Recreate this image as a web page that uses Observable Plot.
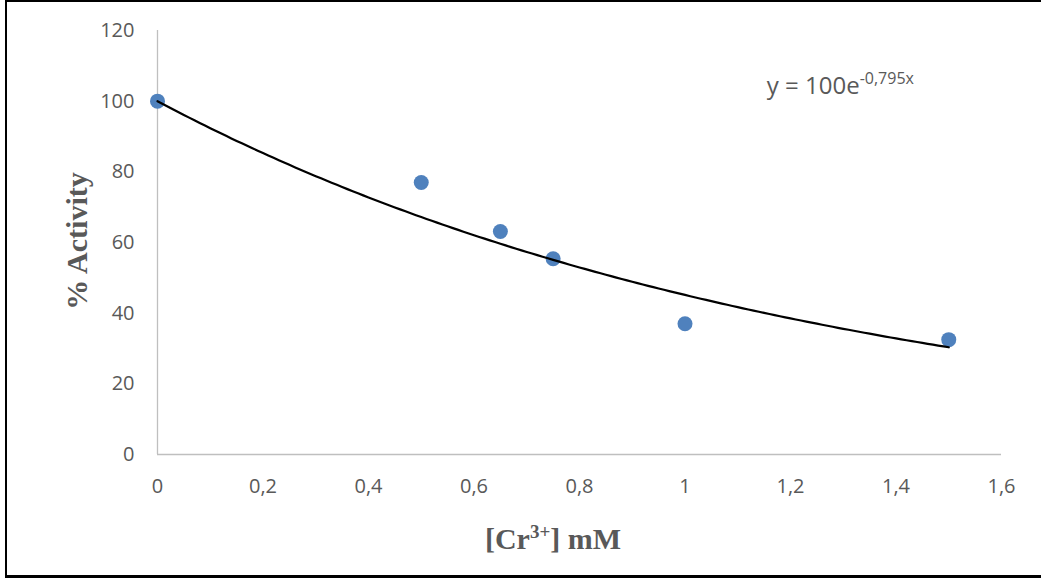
<!DOCTYPE html>
<html>
<head>
<meta charset="utf-8">
<script src="https://cdn.jsdelivr.net/npm/d3@7"></script>
<script src="https://cdn.jsdelivr.net/npm/@observablehq/plot@0.6"></script>
<style>
  html, body { margin: 0; padding: 0; background: #fff; }
  #wrap { position: relative; width: 1041px; height: 581px; overflow: hidden; }
  #frame { position: absolute; left: 5px; top: 0; width: 1036px; height: 578px; box-sizing: border-box;
           border-top: 2px solid #000; border-left: 2px solid #000; border-bottom: 3px solid #000; pointer-events: none; }
</style>
</head>
<body>
<div id="wrap"><div id="frame"></div></div>
<script>
// Data
const concentrations = [0, 0.5, 0.65, 0.75, 1.0, 1.5];   // [Cr3+] mM
const activity       = [100, 77, 63.1, 55.4, 37, 32.5];  // % Activity
const xTicks = [0, 0.2, 0.4, 0.6, 0.8, 1.0, 1.2, 1.4, 1.6];
const yTicks = [0, 20, 40, 60, 80, 100, 120];
// Exponential trend line shown on the chart: y = 100 e^(-0,795 x)
const fitA = 100, fitK = -0.795;
const fitRange = [0, 1.5];
const equationMain = "y = 100e";
const equationExp = "-0,795x";
const equationAt = {x: 1.156, y: 102};
const xTitle = ["[Cr", "3+", "] mM"];
const yTitle = "% Activity";

const points = concentrations.map((c, i) => ({x: c, y: activity[i]}));
const trend = d3.range(fitRange[0], fitRange[1] + 1e-9, 0.01).map(x => ({x, y: fitA * Math.exp(fitK * x)}));
const comma = d => String(d).replace(".", ",");
const tickFont = 20;

const chart = Plot.plot({
  width: 1041,
  height: 581,
  marginLeft: 157,
  marginRight: 40,
  marginTop: 30,
  marginBottom: 127,
  style: {background: "transparent", color: "#595959", fontFamily: "'Open Sans', sans-serif", fontSize: tickFont + "px"},
  x: {domain: [0, 1.6]},
  y: {domain: [0, 120]},
  marks: [
    Plot.ruleX([0], {stroke: "#BFBFBF", strokeWidth: 1.3}),
    Plot.ruleY([0], {stroke: "#BFBFBF", strokeWidth: 1.3}),
    Plot.axisX({ticks: xTicks, tickFormat: comma, tickSize: 0, tickPadding: 24, label: null, fontSize: tickFont, fill: "#595959"}),
    Plot.axisY({ticks: yTicks, tickSize: 0, tickPadding: 23, label: null, fontSize: tickFont, fill: "#595959"}),
    Plot.dot(points, {x: "x", y: "y", r: 7.5, fill: "#4F81BD", stroke: "none"}),
    Plot.line(trend, {x: "x", y: "y", stroke: "#000", strokeWidth: 2.2})
  ]
});

const xs = chart.scale("x"), ys = chart.scale("y");
const svg = d3.select(chart);

// enforce tick label font
svg.selectAll("g[aria-label$='tick label']")
  .attr("font-size", tickFont)
  .style("font-size", tickFont + "px")
  .style("font-family", "'Open Sans', sans-serif");
svg.selectAll("g[aria-label$='tick label'] text").style("font-size", tickFont + "px");

// Equation label with superscript
const eq = svg.append("text")
  .attr("x", xs.apply(equationAt.x))
  .attr("y", ys.apply(equationAt.y))
  .attr("text-anchor", "start")
  .attr("fill", "#595959")
  .attr("font-family", "'Open Sans', sans-serif")
  .attr("font-size", 24);
eq.append("tspan").text(equationMain);
eq.append("tspan").attr("font-size", 16).attr("dy", -10).text(equationExp);

// X axis title
const xt = svg.append("text")
  .attr("x", 553).attr("y", 549)
  .attr("text-anchor", "middle")
  .attr("fill", "#595959")
  .attr("font-family", "'Liberation Serif', 'Times New Roman', serif")
  .attr("font-weight", "bold")
  .attr("font-size", 30);
xt.append("tspan").text(xTitle[0]);
xt.append("tspan").attr("font-size", 19).attr("dy", -11).text(xTitle[1]);
xt.append("tspan").attr("dy", 11).text(xTitle[2]);

// Y axis title
svg.append("text")
  .attr("transform", "translate(87,241) rotate(-90)")
  .attr("text-anchor", "middle")
  .attr("fill", "#595959")
  .attr("font-family", "'Liberation Serif', 'Times New Roman', serif")
  .attr("font-weight", "bold")
  .attr("font-size", 30)
  .text(yTitle);

document.getElementById("wrap").prepend(chart);
</script>
</body>
</html>
